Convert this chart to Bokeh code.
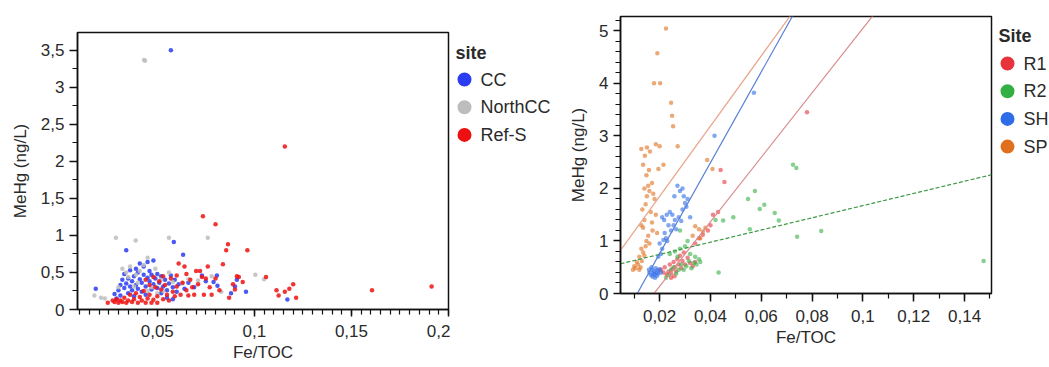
from bokeh.plotting import figure
from bokeh.layouts import row
from bokeh.models import Range1d, SingleIntervalTicker, CustomJSTickFormatter, ColumnDataSource
from bokeh.core.properties import value
from bokeh.embed import file_html
from bokeh.resources import INLINE

FONT = "Liberation Sans"

# ---------------- Left chart data (Fe/TOC vs MeHg, by site) ----------------
left_sites = ["CC", "NorthCC", "Ref-S"]
left_colors = ["#2b3cf2", "#bdbdbd", "#ee1010"]

cc_x = [0.0183, 0.028, 0.029, 0.030, 0.031, 0.031, 0.032, 0.033, 0.033, 0.034, 0.034, 0.035, 0.035,
        0.036, 0.036, 0.037, 0.037, 0.038, 0.038, 0.039, 0.039, 0.040, 0.040, 0.041, 0.041, 0.042,
        0.042, 0.043, 0.043, 0.044, 0.044, 0.045, 0.045, 0.046, 0.046, 0.047, 0.047, 0.048, 0.048,
        0.049, 0.050, 0.050, 0.051, 0.052, 0.052, 0.053, 0.054, 0.055, 0.055, 0.056, 0.057, 0.057,
        0.058, 0.058, 0.0585, 0.059, 0.060, 0.061, 0.0633, 0.064, 0.066, 0.069, 0.073, 0.075, 0.079,
        0.0807, 0.081, 0.090, 0.091, 0.0957, 0.117, 0.088]
cc_y = [0.28, 0.21, 0.15, 0.26, 0.33, 0.19, 0.40, 0.29, 0.48, 0.80, 0.35, 0.22, 0.42,
        0.31, 0.53, 0.26, 0.38, 0.45, 0.18, 0.55, 0.33, 0.28, 0.50, 0.41, 0.62, 0.36,
        0.24, 0.47, 0.58, 0.31, 0.20, 0.43, 0.64, 0.38, 0.52, 0.27, 0.47, 0.66, 0.34,
        0.42, 0.29, 0.48, 0.36, 0.22, 0.45, 0.31, 0.40, 0.26, 0.16, 0.35, 0.46, 3.50,
        0.30, 0.14, 0.91, 0.40, 0.24, 0.34, 0.74, 0.28, 0.36, 0.30, 0.46, 0.38, 0.37,
        0.46, 0.32, 0.31, 0.40, 0.24, 0.135, 0.22]

ncc_x = [0.0176, 0.021, 0.023, 0.0287, 0.030, 0.032, 0.034, 0.035, 0.036, 0.0389, 0.039, 0.040,
         0.041, 0.043, 0.0432, 0.0437, 0.045, 0.047, 0.049, 0.050, 0.052, 0.053, 0.056, 0.056,
         0.058, 0.063, 0.066, 0.071, 0.076, 0.078, 0.083, 0.1005, 0.105, 0.045, 0.038]
ncc_y = [0.19, 0.16, 0.15, 0.97, 0.30, 0.55, 0.50, 0.44, 0.58, 0.93, 0.47, 0.36,
         0.52, 0.60, 3.37, 3.36, 0.70, 0.30, 0.55, 0.22, 0.40, 0.25, 0.97, 0.50,
         0.37, 0.35, 0.41, 0.39, 0.97, 0.45, 0.24, 0.47, 0.41, 0.25, 0.31]

refs_x = [0.0245, 0.027, 0.028, 0.029, 0.030, 0.031, 0.032, 0.033, 0.034, 0.035, 0.036, 0.037,
          0.038, 0.039, 0.040, 0.041, 0.042, 0.043, 0.044, 0.045, 0.046, 0.047, 0.048, 0.049,
          0.050, 0.050, 0.051, 0.052, 0.053, 0.054, 0.055, 0.056, 0.057, 0.058, 0.059, 0.060,
          0.060, 0.061, 0.062, 0.063, 0.064, 0.065, 0.066, 0.067, 0.068, 0.069, 0.070, 0.071,
          0.072, 0.073, 0.0735, 0.074, 0.075, 0.076, 0.077, 0.078, 0.080, 0.080, 0.082, 0.0838,
          0.0855, 0.0864, 0.087, 0.089, 0.090, 0.091, 0.092, 0.094, 0.0964, 0.106, 0.1114, 0.1125,
          0.1157, 0.1157, 0.118, 0.120, 0.1215, 0.1606, 0.1913, 0.044, 0.048, 0.046, 0.053, 0.065]
refs_y = [0.09, 0.12, 0.10, 0.14, 0.09, 0.12, 0.10, 0.16, 0.09, 0.12, 0.20, 0.10,
          0.14, 0.22, 0.09, 0.17, 0.12, 0.25, 0.09, 0.15, 0.20, 0.09, 0.13, 0.30,
          0.09, 0.18, 0.38, 0.27, 0.14, 0.33, 0.20, 0.12, 0.42, 0.24, 0.18, 0.31,
          0.46, 0.62, 0.20, 0.36, 0.58, 0.26, 0.19, 0.40, 0.30, 0.20, 0.52, 0.34,
          0.52, 0.44, 1.26, 0.20, 0.42, 0.58, 0.30, 0.20, 1.15, 0.42, 0.26, 0.61,
          0.80, 0.88, 0.16, 0.34, 0.27, 0.45, 0.44, 0.37, 0.80, 0.44, 0.26, 0.19,
          0.24, 2.20, 0.28, 0.34, 0.16, 0.26, 0.31, 0.40, 0.44, 0.33, 0.45, 0.48]

left_x = [cc_x, ncc_x, refs_x]
left_y = [cc_y, ncc_y, refs_y]

# ---------------- Right chart data ----------------
right_sites = ["R1", "R2", "SH", "SP"]
right_colors = ["#e8323c", "#33b043", "#2f6de8", "#e0701e"]
line_colors = ["#d98a8a", "#3f9a45", "#5a7fd6", "#e8a58e"]

r1_x = [0.0205, 0.0215, 0.0220, 0.0228, 0.0235, 0.0240, 0.0245, 0.0250, 0.0255, 0.0260, 0.0265,
        0.0270, 0.0275, 0.0280, 0.0285, 0.0290, 0.0295, 0.0300, 0.0310, 0.0320, 0.0330, 0.0340,
        0.0245, 0.0258, 0.0340, 0.0355, 0.0370, 0.0390, 0.0400, 0.0410, 0.0430, 0.0780, 0.0440,
        0.0455]
r1_y = [0.45, 0.40, 0.50, 0.36, 0.42, 0.55, 0.38, 0.46, 0.60, 0.50, 0.42,
        0.65, 0.55, 0.72, 0.48, 0.62, 0.78, 0.55, 0.68, 0.58, 0.52, 0.60,
        0.30, 0.33, 0.95, 1.05, 1.12, 1.20, 1.30, 1.50, 1.55, 3.45, 2.35,
        2.12]

r2_x = [0.0225, 0.0235, 0.0245, 0.0255, 0.0265, 0.0275, 0.0285, 0.0295, 0.0305, 0.0315, 0.0325,
        0.0335, 0.0345, 0.0355, 0.0240, 0.0260, 0.0280, 0.0300, 0.0320, 0.0340, 0.0360, 0.0270,
        0.0310, 0.0280, 0.0725, 0.0738, 0.0653, 0.0669, 0.0612, 0.0594, 0.0575, 0.0548, 0.0490,
        0.0450, 0.0420, 0.1475, 0.0836, 0.0741, 0.0432, 0.0555]
r2_y = [0.30, 0.35, 0.45, 0.50, 0.38, 0.45, 0.55, 0.45, 0.52, 0.62, 0.48,
        0.58, 0.55, 0.65, 0.75, 0.80, 0.85, 0.90, 0.75, 0.70, 0.60, 0.70,
        1.00, 1.20, 2.45, 2.39, 1.53, 1.39, 1.69, 1.61, 1.95, 1.80, 1.45,
        1.39, 1.40, 0.62, 1.19, 1.08, 0.40, 1.22]

sh_x = [0.0160, 0.0165, 0.0170, 0.0172, 0.0175, 0.0178, 0.0180, 0.0182, 0.0185, 0.0188, 0.0190,
        0.0192, 0.0195, 0.0200, 0.0205, 0.0168, 0.0158, 0.0195, 0.0205, 0.0210, 0.0200, 0.0215,
        0.0225, 0.0220, 0.0230, 0.0235, 0.0218, 0.0210, 0.0228, 0.0240, 0.0250, 0.0260, 0.0255,
        0.0265, 0.0245, 0.0275, 0.0285, 0.0290, 0.0300, 0.0305, 0.0295, 0.0280, 0.0270, 0.0290,
        0.0310, 0.0320, 0.0258, 0.0416, 0.0571]
sh_y = [0.40, 0.35, 0.45, 0.32, 0.38, 0.42, 0.36, 0.30, 0.48, 0.40, 0.34,
        0.44, 0.38, 0.46, 0.40, 0.50, 0.45, 0.70, 0.75, 0.85, 0.95, 1.02,
        1.05, 1.15, 1.00, 1.30, 1.40, 1.45, 1.50, 1.55, 1.50, 1.40, 1.30,
        1.22, 1.20, 1.45, 1.38, 1.60, 1.72, 1.65, 1.85, 1.95, 2.05, 2.00,
        1.80, 1.45, 1.85, 3.00, 3.82]

sp_x = [0.0095, 0.0100, 0.0105, 0.0110, 0.0115, 0.0120, 0.0120, 0.0125, 0.0130, 0.0135, 0.0128,
        0.0140, 0.0145, 0.0128, 0.0135, 0.0140, 0.0132, 0.0145, 0.0150, 0.0140, 0.0155, 0.0160,
        0.0148, 0.0158, 0.0135, 0.0142, 0.0128, 0.0150, 0.0162, 0.0170, 0.0175, 0.0180, 0.0185,
        0.0200, 0.0215, 0.0195, 0.0165, 0.0170, 0.0155, 0.0148, 0.0160, 0.0172, 0.0185, 0.0190,
        0.0225, 0.0191, 0.0178, 0.0202, 0.0245, 0.0249, 0.0253, 0.0271, 0.0340, 0.0355, 0.0370,
        0.0380, 0.0330, 0.0360, 0.0387, 0.0408]
sp_y = [0.45, 0.52, 0.48, 0.60, 0.55, 0.45, 0.70, 0.50, 0.62, 0.78, 0.85,
        0.72, 0.90, 1.30, 1.25, 1.40, 1.60, 1.70, 1.85, 2.00, 2.05, 1.95,
        2.25, 2.35, 2.45, 2.62, 2.75, 2.78, 2.70, 2.10, 1.90, 1.80, 2.84,
        2.80, 2.45, 2.37, 1.55, 1.35, 1.10, 1.00, 0.95, 1.20, 1.50, 1.15,
        5.04, 4.57, 4.00, 4.00, 3.63, 3.38, 3.18, 2.80, 1.28, 1.22, 1.18,
        1.25, 1.10, 1.05, 2.54, 2.37]

right_x = [r1_x, r2_x, sh_x, sp_x]
right_y = [r1_y, r2_y, sh_y, sp_y]

# linear fits per site (slope, intercept)
fit_slope = [61.35, 11.6, 86.4, 66.8]
fit_intercept = [-1.09, 0.512, -0.968, 0.513]
fit_dash = ["solid", "4 2", "solid", "solid"]

TXT = "#2a2a2a"
fmt_code = "var v = Math.round(tick*10000)/10000; return String(v).replace('.', ',');"
H = 367
TOP, BOTTOM = 32, 58      # identical frame borders for every figure in the row
SHIFT = 16                # the right-hand chart sits 16 px higher


def style(p, xint, xminor, yint, yminor, xmaj, ymaj):
    for ax, interval, nminor, tlen in ((p.xaxis[0], xint, xminor, xmaj), (p.yaxis[0], yint, yminor, ymaj)):
        ax.ticker = SingleIntervalTicker(interval=interval, num_minor_ticks=nminor)
        ax.formatter = CustomJSTickFormatter(code=fmt_code)
        ax.axis_line_color = "#111111"
        ax.axis_line_width = 1.5
        ax.major_tick_line_color = "#111111"
        ax.minor_tick_line_color = "#111111"
        ax.major_tick_line_width = 1.5
        ax.minor_tick_line_width = 1.2
        ax.major_tick_in = 0
        ax.minor_tick_in = 0
        ax.major_tick_out = tlen
        ax.minor_tick_out = 5
        ax.major_label_text_font = FONT
        ax.major_label_text_font_size = "17px"
        ax.major_label_text_color = TXT
        ax.axis_label_text_font = FONT
        ax.axis_label_text_font_size = "17px"
        ax.axis_label_text_font_style = "normal"
        ax.axis_label_text_color = TXT
    p.xaxis[0].major_label_standoff = 8
    p.xaxis[0].axis_label_standoff = 3
    p.yaxis[0].major_label_standoff = 5
    p.yaxis[0].axis_label_standoff = 8
    p.xgrid.visible = False
    p.ygrid.visible = False
    p.outline_line_color = "#111111"
    p.outline_line_width = 1.5
    p.background_fill_color = "white"
    p.border_fill_color = "white"


def legend_fig(width, sites, colors, title, title_y, first_y, pitch, dot_x, text_x, shift):
    # frame spans screen rows TOP..H-BOTTOM of this element; element is shifted up by `shift`
    lf = figure(width=width, height=H, output_backend="svg", toolbar_location=None,
                x_range=Range1d(0, width), y_range=Range1d(H - BOTTOM - shift, TOP - shift),
                x_axis_type=None, y_axis_type=None, outline_line_color=None,
                min_border_left=0, min_border_right=0, min_border_top=TOP, min_border_bottom=BOTTOM,
                margin=(-shift, 0, 0, 0))
    lf.xgrid.visible = False
    lf.ygrid.visible = False
    n = len(sites)
    ys = [first_y + i * pitch for i in range(n)]
    src = ColumnDataSource(dict(dx=[dot_x] * n, tx=[text_x] * n, y=ys, label=sites, color=colors))
    lf.scatter("dx", "y", source=src, size=14, fill_color="color", line_color=None)
    lf.text("tx", "y", text="label", source=src, text_font=value(FONT), text_font_size="18px",
            text_baseline="middle", text_align="left", text_color=TXT)
    lf.text([5], [title_y], text=[title], text_font=value(FONT), text_font_size="18px",
            text_font_style="bold", text_baseline="middle", text_align="left", text_color=TXT)
    return lf


# ---------------- Left figure ----------------
p1 = figure(width=450, height=H, output_backend="svg", toolbar_location=None,
            x_range=Range1d(0.0089, 0.2), y_range=Range1d(0, 3.74),
            min_border_left=77, min_border_right=2, min_border_top=TOP, min_border_bottom=BOTTOM,
            x_axis_label="Fe/TOC", y_axis_label="MeHg (ng/L)")
style(p1, 0.05, 10, 0.5, 2, 7, 8)
for site, col, xs, ys in zip(left_sites, left_colors, left_x, left_y):
    p1.scatter(xs, ys, size=4.5, fill_color=col, line_color=None, fill_alpha=0.85)
leg1 = legend_fig(108, left_sites, left_colors, "site", 52, 79, 27.7, 14, 30, 0)

# ---------------- Right figure ----------------
x0, x1 = 0.0046, 0.1506
p2 = figure(width=435, height=H, output_backend="svg", toolbar_location=None,
            x_range=Range1d(x0, x1), y_range=Range1d(0, 5.27),
            min_border_left=62, min_border_right=2, min_border_top=TOP, min_border_bottom=BOTTOM,
            x_axis_label="Fe/TOC", y_axis_label="MeHg (ng/L)", margin=(-SHIFT, 0, 0, 0))
style(p2, 0.02, 2, 1, 5, 8, 7)
for site, col, xs, ys in zip(right_sites, right_colors, right_x, right_y):
    p2.scatter(xs, ys, size=4.5, fill_color=col, line_color=None, fill_alpha=0.6)
for b, a, lc, dash in zip(fit_slope, fit_intercept, line_colors, fit_dash):
    p2.line([x0, x1], [a + b * x0, a + b * x1], line_color=lc, line_width=1.2, line_dash=dash)
leg2 = legend_fig(56, right_sites, right_colors, "Site", 35, 63, 27.7, 14, 30, SHIFT)

layout = row(p1, leg1, p2, leg2, spacing=0)
open("out.html", "w").write(file_html(layout, INLINE))
